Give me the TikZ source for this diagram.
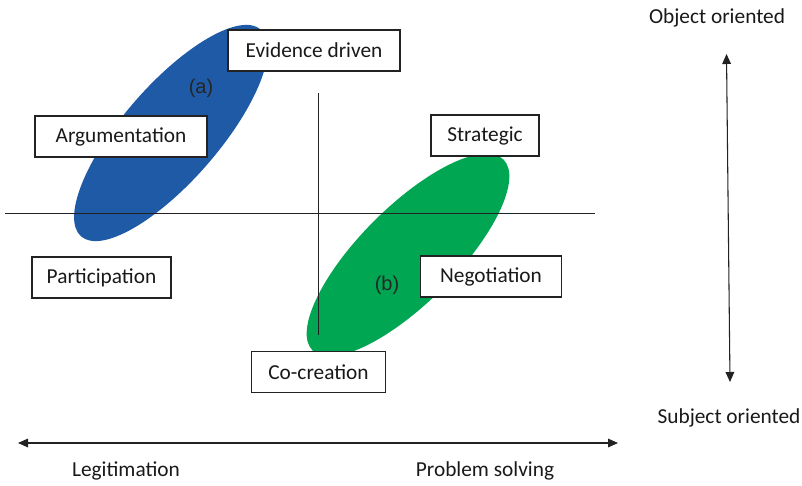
\documentclass[tikz,border=0pt]{standalone}
\usepackage{fontspec}
\setmainfont{Carlito}
\newfontfamily\arialfont{Liberation Sans}
\usetikzlibrary{arrows.meta}
\definecolor{blobblue}{HTML}{1E5AA5}
\definecolor{blobgreen}{HTML}{00A651}
\definecolor{linegray}{HTML}{222222}
\begin{document}
\begin{tikzpicture}[x=0.75pt,y=-0.75pt,
  labelbox/.style={draw=linegray,line width=1.1pt,fill=white,inner sep=0pt,
    minimum height=30.75pt,font=\fontsize{16}{19}\selectfont,text=black!90},
  axislabel/.style={font=\fontsize{16}{19}\selectfont,text=black!90},
  tag/.style={font=\arialfont\fontsize{15}{18}\selectfont,text=black!85},
  guide/.style={draw=linegray,line width=0.6pt},
  dblarrow/.style={draw=linegray,line width=0.8pt,{Triangle[length=7.5pt,width=6.5pt]}-{Triangle[length=7.5pt,width=6.5pt]}}]
\useasboundingbox (0,0) rectangle (802,485);
% ellipses
\fill[blobblue] (171,133) ellipse[x radius=137,y radius=48,rotate=49];
\fill[blobgreen] (408,255) ellipse[x radius=135,y radius=48,rotate=45];
% guide lines
\coordinate (hl) at (5,213);
\coordinate (hr) at (595,213);
\coordinate (vt) at (318,93);
\coordinate (vb) at (318,335);
\draw[guide] (hl) -- (hr);
\draw[guide] (vt) -- (vb);
% axes arrows
\coordinate (ax1) at (18,443);
\coordinate (ax2) at (618,443);
\coordinate (ay1) at (726.5,54);
\coordinate (ay2) at (730,382);
\draw[dblarrow] (ax1) -- (ax2);
\draw[dblarrow] (ay1) -- (ay2);
% tags
\node[tag] (ta) at (201,88) {(a)};
\node[tag] (tb) at (387,285) {(b)};
% boxes
\node[labelbox,minimum width=129pt] (evid) at (314,50.5) {Evidence driven\hspace{4pt}};
\node[labelbox,minimum width=129pt] (argu) at (121,136.5) {Argumentation\hspace{9pt}};
\node[labelbox,minimum width=81pt] (stra) at (485,135.5) {Strategic\hspace{2pt}};
\node[labelbox,minimum width=104.25pt] (part) at (101.5,277.5) {Participation};
\node[labelbox,minimum width=105.75pt] (nego) at (491,276.5) {Negotiation\hspace{6pt}};
\node[labelbox,minimum width=100.5pt] (cocr) at (318.5,372) {Co-creation};
% axis labels
\node[axislabel] (obj) at (717,18) {Object oriented};
\node[axislabel] (sub) at (729,418) {Subject oriented};
\node[axislabel] (leg) at (126,471) {Legitimation};
\node[axislabel] (prob) at (485,471) {Problem solving};
\end{tikzpicture}
\end{document}
